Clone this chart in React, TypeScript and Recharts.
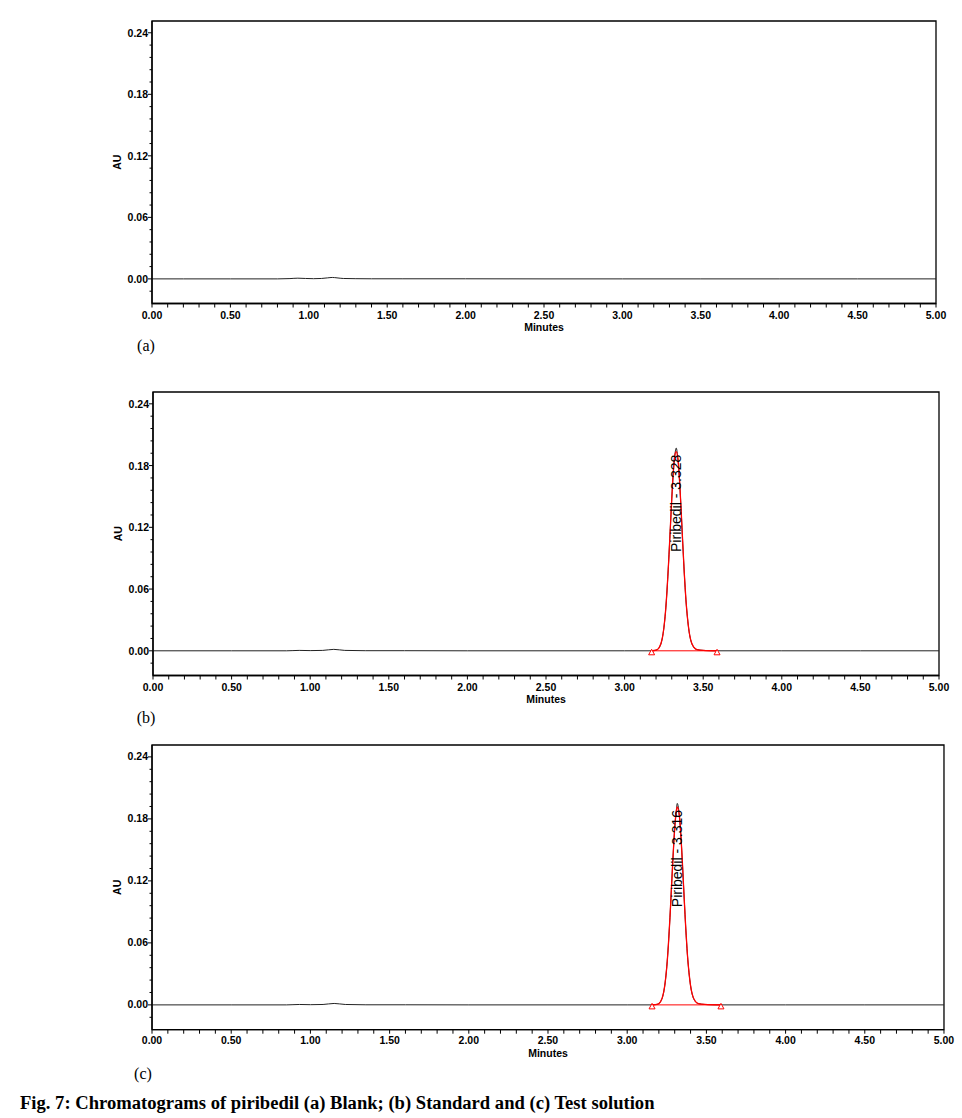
import React from 'react';
import { ComposedChart, Line, XAxis, YAxis, ReferenceArea, ReferenceDot, Label } from 'recharts';

const SANS = '"Liberation Sans", Arial, Helvetica, sans-serif';
const SERIF = '"Liberation Serif", "Times New Roman", Times, serif';

// ---- tick lists ----
const xTicks = [
  0, 0.1, 0.2, 0.3, 0.4, 0.5, 0.6, 0.7, 0.8, 0.9,
  1, 1.1, 1.2, 1.3, 1.4, 1.5, 1.6, 1.7, 1.8, 1.9,
  2, 2.1, 2.2, 2.3, 2.4, 2.5, 2.6, 2.7, 2.8, 2.9,
  3, 3.1, 3.2, 3.3, 3.4, 3.5, 3.6, 3.7, 3.8, 3.9,
  4, 4.1, 4.2, 4.3, 4.4, 4.5, 4.6, 4.7, 4.8, 4.9, 5,
];
const xMajorTicks = [0, 0.5, 1, 1.5, 2, 2.5, 3, 3.5, 4, 4.5, 5];
const yTicks = [
  -0.012, 0, 0.012, 0.024, 0.036, 0.048, 0.06, 0.072, 0.084, 0.096, 0.108,
  0.12, 0.132, 0.144, 0.156, 0.168, 0.18, 0.192, 0.204, 0.216, 0.228, 0.24,
];
const yMajorTicks = [0, 0.06, 0.12, 0.18, 0.24];
const yDomain: [number, number] = [-0.024, 0.2515];

// ---- (a) Blank ----
const blankTime = [0, 0.2, 0.5, 0.8, 0.88, 0.93, 0.98, 1.03, 1.08, 1.12, 1.15, 1.18, 1.22, 1.3, 1.4, 1.6, 2.0, 2.5, 3.0, 3.5, 4.0, 4.5, 5.0];
const blankAU = [0, 0, 0, 0, 0.0003, 0.0007, 0.0004, 0.0002, 0.0004, 0.001, 0.0014, 0.001, 0.0004, 0.0002, 0.0001, 0.0001, 0.0001, 0, 0, 0, 0, 0, 0];

// ---- (b) Standard ----
const stdTime = [
  0, 0.5, 0.85, 0.93, 1.0, 1.08, 1.15, 1.22, 1.35, 1.6, 2.0, 2.5, 3.0, 3.17,
  3.2, 3.22, 3.24, 3.25, 3.26, 3.27, 3.28, 3.29, 3.3, 3.31, 3.32, 3.328, 3.34, 3.35, 3.36, 3.37, 3.38, 3.39, 3.4, 3.41, 3.42, 3.44, 3.46, 3.5, 3.59,
  4.0, 4.5, 5.0,
];
const stdAU = [
  0, 0, 0, 0.0004, 0.0002, 0.0004, 0.0014, 0.0004, 0.0001, 0.0001, 0, 0, 0, 0,
  0.0006, 0.0031, 0.0124, 0.0224, 0.0376, 0.059, 0.086, 0.1167, 0.1476, 0.1738, 0.1906, 0.197, 0.1853, 0.1642, 0.1355, 0.1042, 0.0745, 0.0497, 0.032, 0.019, 0.0108, 0.0035, 0.0012, 0.0004, 0,
  0, 0, 0,
];
const stdPeakTime = [3.172, 3.2, 3.22, 3.24, 3.25, 3.26, 3.27, 3.28, 3.29, 3.3, 3.31, 3.32, 3.328, 3.34, 3.35, 3.36, 3.37, 3.38, 3.39, 3.4, 3.41, 3.42, 3.44, 3.46, 3.5, 3.588];
const stdPeakAU = [0, 0.0006, 0.0031, 0.0124, 0.0224, 0.0376, 0.059, 0.086, 0.1167, 0.1476, 0.1738, 0.1906, 0.1935, 0.1853, 0.1642, 0.1355, 0.1042, 0.0745, 0.0497, 0.032, 0.019, 0.0108, 0.0035, 0.0012, 0.0004, 0];
const stdBaseline = [3.172, 3.588];
const stdRT = 3.328;
const stdApex = 0.1935;

// ---- (c) Test ----
const testTime = [
  0, 0.5, 0.85, 0.93, 1.0, 1.08, 1.15, 1.22, 1.35, 1.6, 2.0, 2.5, 3.0, 3.157,
  3.19, 3.21, 3.23, 3.24, 3.25, 3.26, 3.27, 3.28, 3.29, 3.3, 3.31, 3.316, 3.33, 3.34, 3.35, 3.36, 3.37, 3.38, 3.39, 3.4, 3.41, 3.43, 3.45, 3.49, 3.592,
  4.0, 4.5, 5.0,
];
const testAU = [
  0, 0, 0, 0.0004, 0.0002, 0.0004, 0.0014, 0.0004, 0.0001, 0.0001, 0, 0, 0, 0,
  0.0006, 0.003, 0.012, 0.022, 0.037, 0.058, 0.0845, 0.115, 0.145, 0.171, 0.1875, 0.195, 0.182, 0.1615, 0.133, 0.1025, 0.0735, 0.049, 0.0315, 0.0187, 0.0106, 0.0034, 0.0012, 0.0004, 0,
  0, 0, 0,
];
const testPeakTime = [3.157, 3.19, 3.21, 3.23, 3.24, 3.25, 3.26, 3.27, 3.28, 3.29, 3.3, 3.31, 3.316, 3.33, 3.34, 3.35, 3.36, 3.37, 3.38, 3.39, 3.4, 3.41, 3.43, 3.45, 3.49, 3.592];
const testPeakAU = [0, 0.0006, 0.003, 0.012, 0.022, 0.037, 0.058, 0.0845, 0.115, 0.145, 0.171, 0.1875, 0.1915, 0.182, 0.1615, 0.133, 0.1025, 0.0735, 0.049, 0.0315, 0.0187, 0.0106, 0.0034, 0.0012, 0.0004, 0];
const testBaseline = [3.157, 3.592];
const testRT = 3.316;
const testApex = 0.1915;

const toRows = (t: number[], v: number[]) => t.map((x, i) => ({ t: x, v: v[i] }));

const isIn = (arr: number[], v: number) => arr.some((a) => Math.abs(a - v) < 1e-6);

const XTick = (props: any) => {
  const { x, y, payload } = props;
  const v = payload.value as number;
  const major = isIn(xMajorTicks, v);
  return (
    <g>
      <line x1={x} x2={x} y1={y} y2={y + 4} stroke="#000" strokeWidth={1} />
      {major && (
        <text x={x} y={y + 11} textAnchor="middle" dominantBaseline="central" fontFamily={SANS} fontWeight="bold" fontSize={10.5} fill="#000">
          {v.toFixed(2)}
        </text>
      )}
    </g>
  );
};

const YTick = (props: any) => {
  const { x, y, payload } = props;
  const v = payload.value as number;
  const major = isIn(yMajorTicks, v);
  return (
    <g>
      <line x1={x - (major ? 4 : 2.5)} x2={x} y1={y} y2={y} stroke="#000" strokeWidth={1} />
      {major && (
        <text x={x - 4} y={y} textAnchor="end" dominantBaseline="central" fontFamily={SANS} fontWeight="bold" fontSize={10.5} fill="#000">
          {v.toFixed(2)}
        </text>
      )}
    </g>
  );
};

const Triangle = (props: any) => {
  const { cx, cy } = props;
  const y0 = cy + 1.5;
  return <path d={`M${cx - 3},${y0 + 2.5} L${cx + 3},${y0 + 2.5} L${cx},${y0 - 3} Z`} fill="#fff" stroke="#ff0000" strokeWidth={1} />;
};

const makePeakLabel = (text: string) => (props: any) => {
  const { cx, cy } = props;
  const ay = cy + 3;
  return (
    <text
      x={cx}
      y={ay}
      transform={`rotate(-90, ${cx}, ${ay})`}
      textAnchor="end"
      dominantBaseline="central"
      fontFamily={SANS}
      fontSize={14}
      fill="#000"
    >
      {text}
    </text>
  );
};

type PanelProps = {
  left: number;
  right: number;
  top: number;
  bottom: number;
  trace: { t: number; v: number }[];
  peak?: { t: number; v: number }[];
  baseline?: number[];
  rt?: number;
  apex?: number;
};

const Panel = ({ left, right, top, bottom, trace, peak, baseline, rt, apex }: PanelProps) => {
  const padTop = 10;
  const axisH = 32;
  const h = bottom - top + padTop + axisH;
  return (
    <div style={{ position: 'absolute', left: 0, top: top - padTop, width: 962, height: h }}>
      <ComposedChart width={962} height={h} margin={{ top: padTop, right: 962 - right, bottom: 0, left: left - 60 }}>
        <XAxis
          type="number"
          dataKey="t"
          domain={[0, 5]}
          allowDataOverflow
          ticks={xTicks}
          interval={0}
          tick={<XTick />}
          tickLine={false}
          tickSize={0}
          tickMargin={0}
          height={axisH}
          axisLine={{ stroke: '#000', strokeWidth: 1.3 }}
        >
          <Label
            content={(p: any) => {
              const vb = p.viewBox;
              return (
                <text x={vb.x + vb.width / 2} y={vb.y + 23.5} textAnchor="middle" dominantBaseline="central" fontFamily={SANS} fontWeight="bold" fontSize={10.5} fill="#000">
                  Minutes
                </text>
              );
            }}
          />
        </XAxis>
        <YAxis
          type="number"
          dataKey="v"
          domain={yDomain}
          allowDataOverflow
          ticks={yTicks}
          interval={0}
          tick={<YTick />}
          tickLine={false}
          tickSize={0}
          tickMargin={0}
          width={60}
          axisLine={{ stroke: '#000', strokeWidth: 1.3 }}
        >
          <Label
            content={(p: any) => {
              const vb = p.viewBox;
              const cx = vb.x + vb.width - 35;
              const cy = vb.y + vb.height / 2;
              return (
                <text x={cx} y={cy} transform={`rotate(-90, ${cx}, ${cy})`} textAnchor="middle" dominantBaseline="central" fontFamily={SANS} fontWeight="bold" fontSize={10.5} fill="#000">
                  AU
                </text>
              );
            }}
          />
        </YAxis>
        <ReferenceArea x1={0} x2={5} y1={yDomain[0]} y2={yDomain[1]} fill="none" stroke="#000" strokeWidth={1.3} ifOverflow="extendDomain" />
        <Line data={trace} dataKey="v" type="monotone" stroke="#222" strokeWidth={1} dot={false} activeDot={false} isAnimationActive={false} />
        {baseline && (
          <Line data={baseline.map((t) => ({ t, v: 0 }))} dataKey="v" type="linear" stroke="#ff0000" strokeWidth={1} dot={false} activeDot={false} isAnimationActive={false} />
        )}
        {peak && (
          <Line data={peak} dataKey="v" type="monotone" stroke="#ff0000" strokeWidth={1.3} dot={false} activeDot={false} isAnimationActive={false} />
        )}
        {baseline && baseline.map((t) => <ReferenceDot key={t} x={t} y={0} r={3} shape={<Triangle />} />)}
        {rt !== undefined && apex !== undefined && (
          <ReferenceDot x={rt} y={apex} r={1} shape={makePeakLabel(`Piribedil - ${rt.toFixed(3)}`)} />
        )}
      </ComposedChart>
    </div>
  );
};

export default function App() {
  return (
    <div style={{ position: 'absolute', left: 0, top: 0, width: 962, height: 1118, background: '#fff' }}>
      <Panel left={152} right={936} top={20.9} bottom={303.4} trace={toRows(blankTime, blankAU)} />
      <Panel
        left={153}
        right={939}
        top={392.2}
        bottom={675.7}
        trace={toRows(stdTime, stdAU)}
        peak={toRows(stdPeakTime, stdPeakAU)}
        baseline={stdBaseline}
        rt={stdRT}
        apex={stdApex}
      />
      <Panel
        left={152}
        right={944}
        top={745.1}
        bottom={1029.8}
        trace={toRows(testTime, testAU)}
        peak={toRows(testPeakTime, testPeakAU)}
        baseline={testBaseline}
        rt={testRT}
        apex={testApex}
      />
      <svg width={962} height={1118} style={{ position: 'absolute', left: 0, top: 0, pointerEvents: 'none' }}>
        <text x={146} y={345} textAnchor="middle" dominantBaseline="central" fontFamily={SERIF} fontSize={16} fill="#000">(a)</text>
        <text x={146} y={717} textAnchor="middle" dominantBaseline="central" fontFamily={SERIF} fontSize={16} fill="#000">(b)</text>
        <text x={143} y={1073} textAnchor="middle" dominantBaseline="central" fontFamily={SERIF} fontSize={16} fill="#000">(c)</text>
        <text x={20} y={1102} dominantBaseline="central" fontFamily={SERIF} fontWeight="bold" fontSize={18.6} fill="#000">
          Fig. 7: Chromatograms of piribedil (a) Blank; (b) Standard and (c) Test solution
        </text>
      </svg>
    </div>
  );
}
